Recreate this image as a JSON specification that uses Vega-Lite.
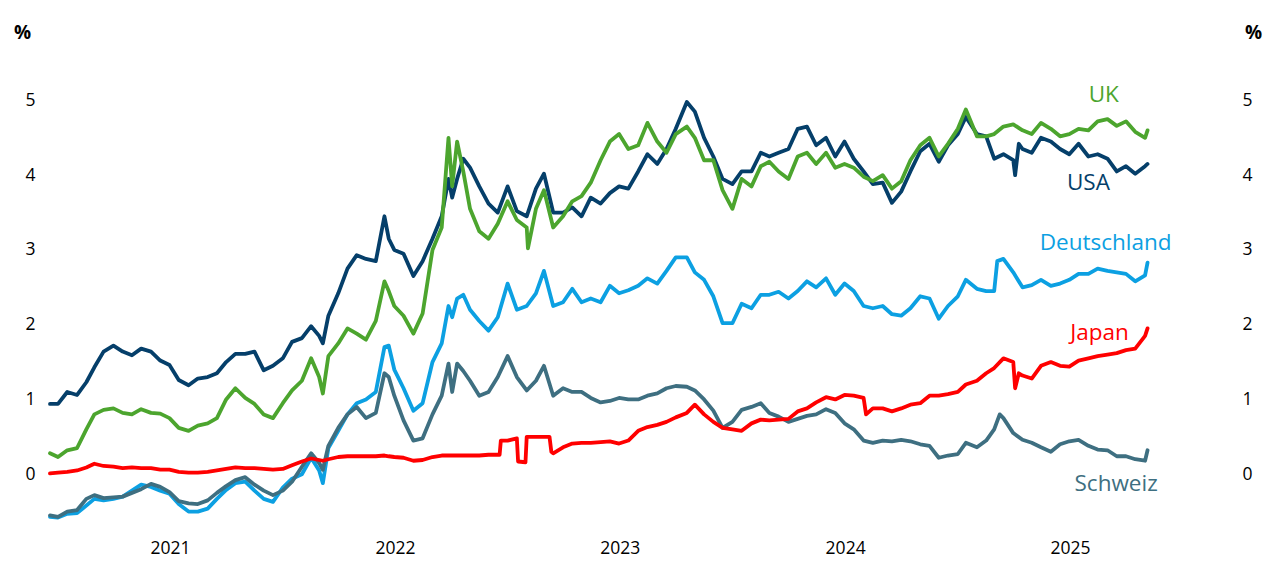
{
  "$schema": "https://vega.github.io/schema/vega-lite/v6.json",
  "width": 1100,
  "height": 456,
  "autosize": {"type": "none"},
  "padding": {"left": 50, "top": 78, "right": 130, "bottom": 49},
  "background": "white",
  "config": {
    "view": {"stroke": null},
    "font": "Open Sans",
    "axis": {"domain": false, "ticks": false, "grid": false, "labelFontSize": 17.5, "labelColor": "#000000", "labelFont": "Open Sans"}
  },
  "datasets": {
    "yields": [
      {"d":"2020-12-19","UK":0.28,"USA":0.94,"Deutschland":-0.57,"Japan":0.01,"Schweiz":-0.55},
      {"d":"2021-01-01","UK":0.23,"USA":0.94,"Deutschland":-0.58,"Japan":0.02,"Schweiz":-0.57},
      {"d":"2021-01-16","UK":0.32,"USA":1.10,"Deutschland":-0.53,"Japan":0.03,"Schweiz":-0.50},
      {"d":"2021-02-01","UK":0.35,"USA":1.06,"Deutschland":-0.52,"Japan":0.05,"Schweiz":-0.48},
      {"d":"2021-02-16","UK":0.60,"USA":1.23,"Deutschland":-0.42,"Japan":0.09,"Schweiz":-0.33},
      {"d":"2021-03-01","UK":0.80,"USA":1.43,"Deutschland":-0.33,"Japan":0.14,"Schweiz":-0.28},
      {"d":"2021-03-16","UK":0.86,"USA":1.64,"Deutschland":-0.35,"Japan":0.11,"Schweiz":-0.32},
      {"d":"2021-04-01","UK":0.88,"USA":1.72,"Deutschland":-0.33,"Japan":0.10,"Schweiz":-0.31},
      {"d":"2021-04-16","UK":0.82,"USA":1.64,"Deutschland":-0.30,"Japan":0.08,"Schweiz":-0.30},
      {"d":"2021-05-01","UK":0.80,"USA":1.59,"Deutschland":-0.22,"Japan":0.09,"Schweiz":-0.25},
      {"d":"2021-05-16","UK":0.87,"USA":1.68,"Deutschland":-0.14,"Japan":0.08,"Schweiz":-0.20},
      {"d":"2021-06-01","UK":0.82,"USA":1.64,"Deutschland":-0.17,"Japan":0.08,"Schweiz":-0.13},
      {"d":"2021-06-16","UK":0.81,"USA":1.52,"Deutschland":-0.22,"Japan":0.06,"Schweiz":-0.17},
      {"d":"2021-07-01","UK":0.75,"USA":1.46,"Deutschland":-0.26,"Japan":0.06,"Schweiz":-0.24},
      {"d":"2021-07-16","UK":0.62,"USA":1.26,"Deutschland":-0.40,"Japan":0.03,"Schweiz":-0.36},
      {"d":"2021-08-01","UK":0.58,"USA":1.19,"Deutschland":-0.50,"Japan":0.02,"Schweiz":-0.39},
      {"d":"2021-08-16","UK":0.65,"USA":1.28,"Deutschland":-0.50,"Japan":0.02,"Schweiz":-0.40},
      {"d":"2021-09-01","UK":0.68,"USA":1.30,"Deutschland":-0.46,"Japan":0.03,"Schweiz":-0.35},
      {"d":"2021-09-16","UK":0.75,"USA":1.35,"Deutschland":-0.33,"Japan":0.05,"Schweiz":-0.25},
      {"d":"2021-10-01","UK":1.00,"USA":1.50,"Deutschland":-0.21,"Japan":0.07,"Schweiz":-0.16},
      {"d":"2021-10-16","UK":1.15,"USA":1.61,"Deutschland":-0.12,"Japan":0.09,"Schweiz":-0.08},
      {"d":"2021-11-01","UK":1.02,"USA":1.61,"Deutschland":-0.10,"Japan":0.08,"Schweiz":-0.04},
      {"d":"2021-11-16","UK":0.94,"USA":1.64,"Deutschland":-0.22,"Japan":0.08,"Schweiz":-0.14},
      {"d":"2021-12-01","UK":0.80,"USA":1.39,"Deutschland":-0.33,"Japan":0.07,"Schweiz":-0.22},
      {"d":"2021-12-16","UK":0.75,"USA":1.45,"Deutschland":-0.37,"Japan":0.06,"Schweiz":-0.28},
      {"d":"2022-01-01","UK":0.95,"USA":1.55,"Deutschland":-0.18,"Japan":0.07,"Schweiz":-0.22},
      {"d":"2022-01-16","UK":1.12,"USA":1.77,"Deutschland":-0.06,"Japan":0.12,"Schweiz":-0.10},
      {"d":"2022-02-01","UK":1.25,"USA":1.82,"Deutschland":0.00,"Japan":0.17,"Schweiz":0.10},
      {"d":"2022-02-16","UK":1.55,"USA":1.98,"Deutschland":0.22,"Japan":0.21,"Schweiz":0.28},
      {"d":"2022-03-01","UK":1.30,"USA":1.85,"Deutschland":0.05,"Japan":0.19,"Schweiz":0.15},
      {"d":"2022-03-07","UK":1.08,"USA":1.75,"Deutschland":-0.12,"Japan":0.18,"Schweiz":0.06},
      {"d":"2022-03-16","UK":1.58,"USA":2.12,"Deutschland":0.35,"Japan":0.20,"Schweiz":0.38},
      {"d":"2022-04-01","UK":1.75,"USA":2.42,"Deutschland":0.58,"Japan":0.23,"Schweiz":0.62},
      {"d":"2022-04-16","UK":1.95,"USA":2.75,"Deutschland":0.80,"Japan":0.24,"Schweiz":0.80},
      {"d":"2022-05-01","UK":1.88,"USA":2.93,"Deutschland":0.95,"Japan":0.24,"Schweiz":0.90},
      {"d":"2022-05-16","UK":1.80,"USA":2.88,"Deutschland":1.00,"Japan":0.24,"Schweiz":0.75},
      {"d":"2022-06-01","UK":2.05,"USA":2.85,"Deutschland":1.10,"Japan":0.24,"Schweiz":0.82},
      {"d":"2022-06-15","UK":2.58,"USA":3.45,"Deutschland":1.70,"Japan":0.25,"Schweiz":1.35},
      {"d":"2022-06-22","UK":2.45,"USA":3.15,"Deutschland":1.72,"Japan":0.24,"Schweiz":1.30},
      {"d":"2022-07-01","UK":2.25,"USA":3.00,"Deutschland":1.40,"Japan":0.23,"Schweiz":1.05},
      {"d":"2022-07-16","UK":2.12,"USA":2.95,"Deutschland":1.15,"Japan":0.22,"Schweiz":0.72},
      {"d":"2022-08-01","UK":1.88,"USA":2.65,"Deutschland":0.85,"Japan":0.18,"Schweiz":0.45},
      {"d":"2022-08-16","UK":2.15,"USA":2.85,"Deutschland":0.95,"Japan":0.19,"Schweiz":0.48},
      {"d":"2022-09-01","UK":3.00,"USA":3.15,"Deutschland":1.50,"Japan":0.23,"Schweiz":0.80},
      {"d":"2022-09-16","UK":3.30,"USA":3.45,"Deutschland":1.75,"Japan":0.25,"Schweiz":1.05},
      {"d":"2022-09-27","UK":4.50,"USA":3.95,"Deutschland":2.25,"Japan":0.25,"Schweiz":1.48},
      {"d":"2022-10-03","UK":3.85,"USA":3.70,"Deutschland":2.10,"Japan":0.25,"Schweiz":1.10},
      {"d":"2022-10-11","UK":4.45,"USA":3.95,"Deutschland":2.35,"Japan":0.25,"Schweiz":1.48},
      {"d":"2022-10-21","UK":4.05,"USA":4.22,"Deutschland":2.40,"Japan":0.25,"Schweiz":1.38},
      {"d":"2022-11-01","UK":3.55,"USA":4.10,"Deutschland":2.20,"Japan":0.25,"Schweiz":1.25},
      {"d":"2022-11-16","UK":3.25,"USA":3.85,"Deutschland":2.05,"Japan":0.25,"Schweiz":1.05},
      {"d":"2022-12-01","UK":3.15,"USA":3.62,"Deutschland":1.92,"Japan":0.26,"Schweiz":1.10},
      {"d":"2022-12-16","UK":3.35,"USA":3.50,"Deutschland":2.10,"Japan":0.26,"Schweiz":1.30},
      {"d":"2022-12-19","Japan":0.26},
      {"d":"2022-12-21","Japan":0.45},
      {"d":"2023-01-01","UK":3.65,"USA":3.85,"Deutschland":2.55,"Japan":0.45,"Schweiz":1.58},
      {"d":"2023-01-16","UK":3.40,"USA":3.52,"Deutschland":2.20,"Japan":0.48,"Schweiz":1.30},
      {"d":"2023-01-18","Japan":0.17},
      {"d":"2023-01-30","Japan":0.16},
      {"d":"2023-02-01","UK":3.30,"USA":3.45,"Deutschland":2.25,"Japan":0.50,"Schweiz":1.12},
      {"d":"2023-02-03","UK":3.02},
      {"d":"2023-02-16","UK":3.55,"USA":3.82,"Deutschland":2.42,"Japan":0.50,"Schweiz":1.25},
      {"d":"2023-03-01","UK":3.80,"USA":4.02,"Deutschland":2.72,"Japan":0.50,"Schweiz":1.45},
      {"d":"2023-03-10","Japan":0.50},
      {"d":"2023-03-13","Japan":0.30},
      {"d":"2023-03-16","UK":3.30,"USA":3.50,"Deutschland":2.25,"Japan":0.28,"Schweiz":1.05},
      {"d":"2023-04-01","UK":3.45,"USA":3.50,"Deutschland":2.30,"Japan":0.36,"Schweiz":1.15},
      {"d":"2023-04-16","UK":3.65,"USA":3.57,"Deutschland":2.48,"Japan":0.41,"Schweiz":1.10},
      {"d":"2023-05-01","UK":3.72,"USA":3.45,"Deutschland":2.30,"Japan":0.42,"Schweiz":1.10},
      {"d":"2023-05-16","UK":3.90,"USA":3.70,"Deutschland":2.35,"Japan":0.42,"Schweiz":1.02},
      {"d":"2023-06-01","UK":4.20,"USA":3.62,"Deutschland":2.30,"Japan":0.43,"Schweiz":0.96},
      {"d":"2023-06-16","UK":4.45,"USA":3.76,"Deutschland":2.52,"Japan":0.44,"Schweiz":0.98},
      {"d":"2023-07-01","UK":4.55,"USA":3.85,"Deutschland":2.42,"Japan":0.41,"Schweiz":1.02},
      {"d":"2023-07-16","UK":4.35,"USA":3.82,"Deutschland":2.46,"Japan":0.45,"Schweiz":1.00},
      {"d":"2023-08-01","UK":4.40,"USA":4.05,"Deutschland":2.52,"Japan":0.58,"Schweiz":1.00},
      {"d":"2023-08-16","UK":4.70,"USA":4.28,"Deutschland":2.62,"Japan":0.63,"Schweiz":1.05},
      {"d":"2023-09-01","UK":4.45,"USA":4.15,"Deutschland":2.55,"Japan":0.66,"Schweiz":1.08},
      {"d":"2023-09-16","UK":4.30,"USA":4.35,"Deutschland":2.72,"Japan":0.70,"Schweiz":1.15},
      {"d":"2023-10-01","UK":4.55,"USA":4.62,"Deutschland":2.90,"Japan":0.76,"Schweiz":1.18},
      {"d":"2023-10-19","UK":4.65,"USA":4.98,"Deutschland":2.90,"Japan":0.82,"Schweiz":1.17},
      {"d":"2023-11-01","UK":4.50,"USA":4.85,"Deutschland":2.70,"Japan":0.93,"Schweiz":1.12},
      {"d":"2023-11-16","UK":4.20,"USA":4.50,"Deutschland":2.60,"Japan":0.80,"Schweiz":1.00},
      {"d":"2023-12-01","UK":4.20,"USA":4.25,"Deutschland":2.38,"Japan":0.70,"Schweiz":0.85},
      {"d":"2023-12-16","UK":3.80,"USA":3.95,"Deutschland":2.02,"Japan":0.62,"Schweiz":0.62},
      {"d":"2024-01-01","UK":3.55,"USA":3.88,"Deutschland":2.02,"Japan":0.60,"Schweiz":0.70},
      {"d":"2024-01-16","UK":3.95,"USA":4.05,"Deutschland":2.28,"Japan":0.58,"Schweiz":0.86},
      {"d":"2024-02-01","UK":3.85,"USA":4.05,"Deutschland":2.22,"Japan":0.68,"Schweiz":0.90},
      {"d":"2024-02-16","UK":4.12,"USA":4.30,"Deutschland":2.40,"Japan":0.73,"Schweiz":0.95},
      {"d":"2024-03-01","UK":4.18,"USA":4.25,"Deutschland":2.40,"Japan":0.72,"Schweiz":0.82},
      {"d":"2024-03-16","UK":4.05,"USA":4.30,"Deutschland":2.44,"Japan":0.73,"Schweiz":0.77},
      {"d":"2024-04-01","UK":3.95,"USA":4.35,"Deutschland":2.35,"Japan":0.74,"Schweiz":0.70},
      {"d":"2024-04-16","UK":4.25,"USA":4.62,"Deutschland":2.45,"Japan":0.84,"Schweiz":0.74},
      {"d":"2024-05-01","UK":4.30,"USA":4.65,"Deutschland":2.58,"Japan":0.88,"Schweiz":0.78},
      {"d":"2024-05-16","UK":4.15,"USA":4.40,"Deutschland":2.50,"Japan":0.96,"Schweiz":0.80},
      {"d":"2024-06-01","UK":4.30,"USA":4.50,"Deutschland":2.62,"Japan":1.03,"Schweiz":0.87},
      {"d":"2024-06-16","UK":4.10,"USA":4.25,"Deutschland":2.40,"Japan":1.00,"Schweiz":0.82},
      {"d":"2024-07-01","UK":4.15,"USA":4.45,"Deutschland":2.55,"Japan":1.06,"Schweiz":0.68},
      {"d":"2024-07-16","UK":4.10,"USA":4.22,"Deutschland":2.45,"Japan":1.05,"Schweiz":0.60},
      {"d":"2024-08-01","UK":3.98,"USA":4.05,"Deutschland":2.25,"Japan":1.02,"Schweiz":0.45},
      {"d":"2024-08-05","Japan":0.80},
      {"d":"2024-08-16","UK":3.92,"USA":3.88,"Deutschland":2.22,"Japan":0.88,"Schweiz":0.42},
      {"d":"2024-09-01","UK":4.00,"USA":3.90,"Deutschland":2.25,"Japan":0.88,"Schweiz":0.45},
      {"d":"2024-09-16","UK":3.82,"USA":3.63,"Deutschland":2.14,"Japan":0.84,"Schweiz":0.44},
      {"d":"2024-10-01","UK":3.92,"USA":3.78,"Deutschland":2.12,"Japan":0.88,"Schweiz":0.46},
      {"d":"2024-10-16","UK":4.20,"USA":4.05,"Deutschland":2.22,"Japan":0.93,"Schweiz":0.44},
      {"d":"2024-11-01","UK":4.40,"USA":4.32,"Deutschland":2.38,"Japan":0.95,"Schweiz":0.40},
      {"d":"2024-11-16","UK":4.50,"USA":4.42,"Deutschland":2.35,"Japan":1.05,"Schweiz":0.38},
      {"d":"2024-12-01","UK":4.25,"USA":4.18,"Deutschland":2.08,"Japan":1.05,"Schweiz":0.22},
      {"d":"2024-12-16","UK":4.42,"USA":4.40,"Deutschland":2.25,"Japan":1.07,"Schweiz":0.25},
      {"d":"2025-01-01","UK":4.62,"USA":4.55,"Deutschland":2.38,"Japan":1.10,"Schweiz":0.27},
      {"d":"2025-01-14","UK":4.88,"USA":4.78,"Deutschland":2.60,"Japan":1.20,"Schweiz":0.42},
      {"d":"2025-02-01","UK":4.52,"USA":4.55,"Deutschland":2.48,"Japan":1.25,"Schweiz":0.36},
      {"d":"2025-02-16","UK":4.52,"USA":4.52,"Deutschland":2.45,"Japan":1.35,"Schweiz":0.45},
      {"d":"2025-03-01","UK":4.55,"USA":4.22,"Deutschland":2.45,"Japan":1.42,"Schweiz":0.60},
      {"d":"2025-03-06","Deutschland":2.85},
      {"d":"2025-03-10","Schweiz":0.80},
      {"d":"2025-03-16","UK":4.65,"USA":4.28,"Deutschland":2.88,"Japan":1.55,"Schweiz":0.75},
      {"d":"2025-04-01","UK":4.68,"USA":4.20,"Deutschland":2.70,"Japan":1.50,"Schweiz":0.55},
      {"d":"2025-04-04","USA":4.00,"Japan":1.15},
      {"d":"2025-04-10","USA":4.42,"Japan":1.35},
      {"d":"2025-04-16","UK":4.60,"USA":4.35,"Deutschland":2.50,"Japan":1.32,"Schweiz":0.46},
      {"d":"2025-05-01","UK":4.55,"USA":4.30,"Deutschland":2.53,"Japan":1.28,"Schweiz":0.42},
      {"d":"2025-05-16","UK":4.70,"USA":4.50,"Deutschland":2.60,"Japan":1.45,"Schweiz":0.36},
      {"d":"2025-06-01","UK":4.62,"USA":4.45,"Deutschland":2.52,"Japan":1.50,"Schweiz":0.30},
      {"d":"2025-06-16","UK":4.52,"USA":4.35,"Deutschland":2.55,"Japan":1.45,"Schweiz":0.40},
      {"d":"2025-07-01","UK":4.55,"USA":4.28,"Deutschland":2.60,"Japan":1.44,"Schweiz":0.44},
      {"d":"2025-07-16","UK":4.62,"USA":4.42,"Deutschland":2.68,"Japan":1.52,"Schweiz":0.46},
      {"d":"2025-08-01","UK":4.60,"USA":4.25,"Deutschland":2.68,"Japan":1.55,"Schweiz":0.38},
      {"d":"2025-08-16","UK":4.72,"USA":4.28,"Deutschland":2.75,"Japan":1.58,"Schweiz":0.33},
      {"d":"2025-09-01","UK":4.75,"USA":4.22,"Deutschland":2.72,"Japan":1.60,"Schweiz":0.32},
      {"d":"2025-09-16","UK":4.66,"USA":4.05,"Deutschland":2.70,"Japan":1.62,"Schweiz":0.24},
      {"d":"2025-10-01","UK":4.72,"USA":4.12,"Deutschland":2.68,"Japan":1.66,"Schweiz":0.24},
      {"d":"2025-10-16","UK":4.58,"USA":4.02,"Deutschland":2.58,"Japan":1.68,"Schweiz":0.20},
      {"d":"2025-11-01","UK":4.50,"USA":4.12,"Deutschland":2.66,"Japan":1.85,"Schweiz":0.18},
      {"d":"2025-11-05","UK":4.60,"USA":4.15,"Deutschland":2.83,"Japan":1.95,"Schweiz":0.32}
    ],
    "labels": [
      {"s":"UK","d":"2025-08-26","v":5.07},
      {"s":"USA","d":"2025-08-01","v":3.89},
      {"s":"Deutschland","d":"2025-08-29","v":3.09},
      {"s":"Japan","d":"2025-08-19","v":1.885},
      {"s":"Schweiz","d":"2025-09-15","v":-0.134}
    ]
  },
  "layer": [
    {
      "data": {"name": "yields"},
      "transform": [
        {"fold": ["Deutschland", "Schweiz", "Japan", "USA", "UK"], "as": ["s", "v"]},
        {"filter": "isValid(datum.v)"}
      ],
      "mark": {"type": "line", "strokeWidth": 3.8, "strokeJoin": "round", "strokeCap": "round"},
      "encoding": {
        "x": {"field": "d", "type": "temporal",
              "scale": {"domain": [{"year": 2020, "month": 12, "date": 19}, {"year": 2025, "month": 11, "date": 9}]},
              "axis": {"title": null, "format": "%Y", "labelPadding": 5,
                       "values": [{"year": 2021, "month": 7, "date": 2}, {"year": 2022, "month": 7, "date": 2}, {"year": 2023, "month": 7, "date": 2}, {"year": 2024, "month": 7, "date": 2}, {"year": 2025, "month": 7, "date": 2}]}},
        "y": {"field": "v", "type": "quantitative",
              "scale": {"domain": [-0.8, 5.3], "nice": false, "zero": false},
              "axis": {"orient": "left", "values": [0, 1, 2, 3, 4, 5], "labelPadding": 15, "title": "%",
                       "titleAngle": 0, "titleX": -28, "titleY": -46, "titleAlign": "center", "titleBaseline": "middle",
                       "titleFontSize": 19, "titleFontWeight": "bold", "titleColor": "#000000"}},
        "color": {"field": "s", "type": "nominal",
                  "scale": {"domain": ["UK", "USA", "Deutschland", "Japan", "Schweiz"], "range": ["#4ca52e", "#053f6a", "#0ca0e2", "#ff0000", "#3e6f81"]},
                  "legend": null}
      }
    },
    {
      "data": {"name": "yields"},
      "mark": {"type": "line", "opacity": 0},
      "encoding": {
        "x": {"field": "d", "type": "temporal"},
        "y": {"field": "USA", "type": "quantitative",
              "axis": {"orient": "right", "values": [0, 1, 2, 3, 4, 5], "labelPadding": 92, "labelAlign": "left", "title": "%",
                       "titleAngle": 0, "titleX": 103, "titleY": -46, "titleAlign": "center", "titleBaseline": "middle",
                       "titleFontSize": 19, "titleFontWeight": "bold", "titleColor": "#000000"}}
      }
    },
    {
      "data": {"name": "labels"},
      "mark": {"type": "text", "fontSize": 22.5, "font": "Open Sans", "align": "center", "baseline": "middle"},
      "encoding": {
        "x": {"field": "d", "type": "temporal"},
        "y": {"field": "v", "type": "quantitative", "axis": null},
        "text": {"field": "s"},
        "color": {"field": "s", "type": "nominal", "legend": null}
      }
    }
  ],
  "resolve": {"scale": {"y": "shared"}, "axis": {"y": "independent"}}
}
